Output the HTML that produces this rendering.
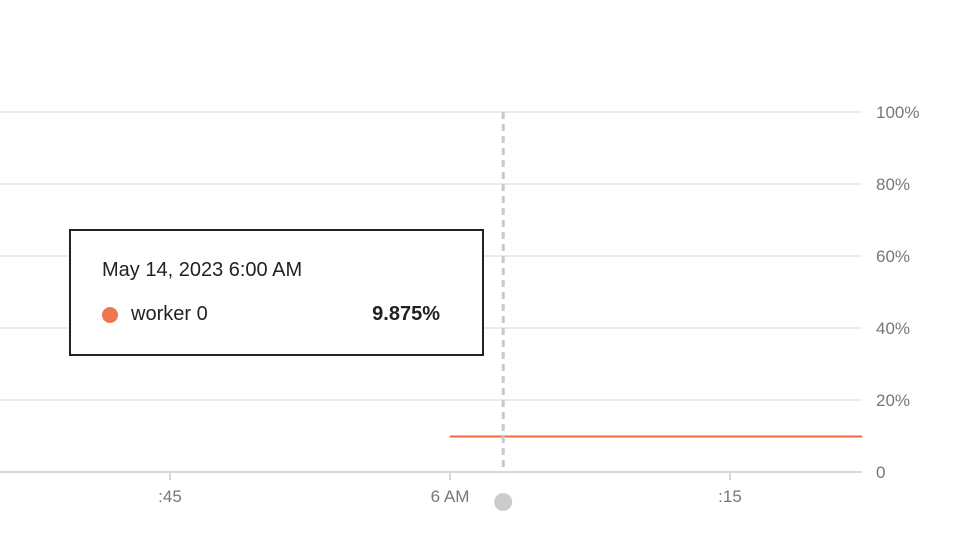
<!DOCTYPE html>
<html><head><meta charset="utf-8"><style>
body{margin:0;background:#fff;width:958px;height:536px;overflow:hidden;font-family:"Liberation Sans",sans-serif}
svg{position:absolute;left:0;top:0}
#tip{position:absolute;left:69px;top:229px;width:411px;height:123px;border:2px solid #222;background:#fff;box-sizing:content-box}
</style></head><body>
<svg id="chart" width="958" height="536"></svg>
<div id="tip">
<div style="position:absolute;left:31px;top:28px;font-size:20px;color:#222">May 14, 2023 6:00 AM</div>
<div style="position:absolute;left:31px;top:76px;width:16px;height:16px;border-radius:50%;background:#ee7752"></div>
<div style="position:absolute;left:60px;top:72px;font-size:20px;color:#222">worker 0</div>
<div style="position:absolute;right:42px;top:72px;font-size:20px;font-weight:bold;color:#222">9.875%</div>
</div>
<script>
const yTicks=[0,20,40,60,80,100];
const yTickLabels=["0","20%","40%","60%","80%","100%"];
const xTicks=[-15,0,15];
const xTickLabels=[":45","6 AM",":15"];
const seriesTimes=[0,22.1];
const seriesValues=[9.875,9.875];
const cursorTime=2.85;
const svg=document.getElementById('chart');
const NS='http://www.w3.org/2000/svg';
const y=v=>472-v*3.6;
const x=t=>450+t*280/15;
function mk(tag,attrs,name){const e=document.createElementNS(NS,tag);for(const k in attrs)e.setAttribute(k,attrs[k]);


svg.appendChild(e);return e;}
yTicks.forEach((v,i)=>{
mk('line',{x1:0,x2:862,y1:y(v),y2:y(v),stroke:v===0?'#d8d8d8':'#ebebeb','stroke-width':2},'y-gridline');
const t=mk('text',{x:876,y:y(v)+6,'font-size':17,fill:'#777'},'y-tick-label');t.textContent=yTickLabels[i];
});
xTicks.forEach((v,i)=>{
mk('line',{x1:x(v),x2:x(v),y1:472,y2:480,stroke:'#d8d8d8','stroke-width':2},'x-tick');
const t=mk('text',{x:x(v),y:502,'font-size':17,fill:'#777','text-anchor':'middle'},'x-tick-label');t.textContent=xTickLabels[i];
});
mk('line',{x1:x(seriesTimes[0]),x2:Math.min(862,x(seriesTimes[1])),y1:y(seriesValues[0]),y2:y(seriesValues[1]),stroke:'#ee6a3f','stroke-width':2},'series-line-worker-0');
mk('line',{x1:x(cursorTime),x2:x(cursorTime),y1:112,y2:472,stroke:'#c8c8c8','stroke-width':3,'stroke-dasharray':'7,5'},'cursor-line');
mk('circle',{cx:x(cursorTime),cy:502,r:9,fill:'#cccccc'},'cursor-handle');
</script>
</body></html>
